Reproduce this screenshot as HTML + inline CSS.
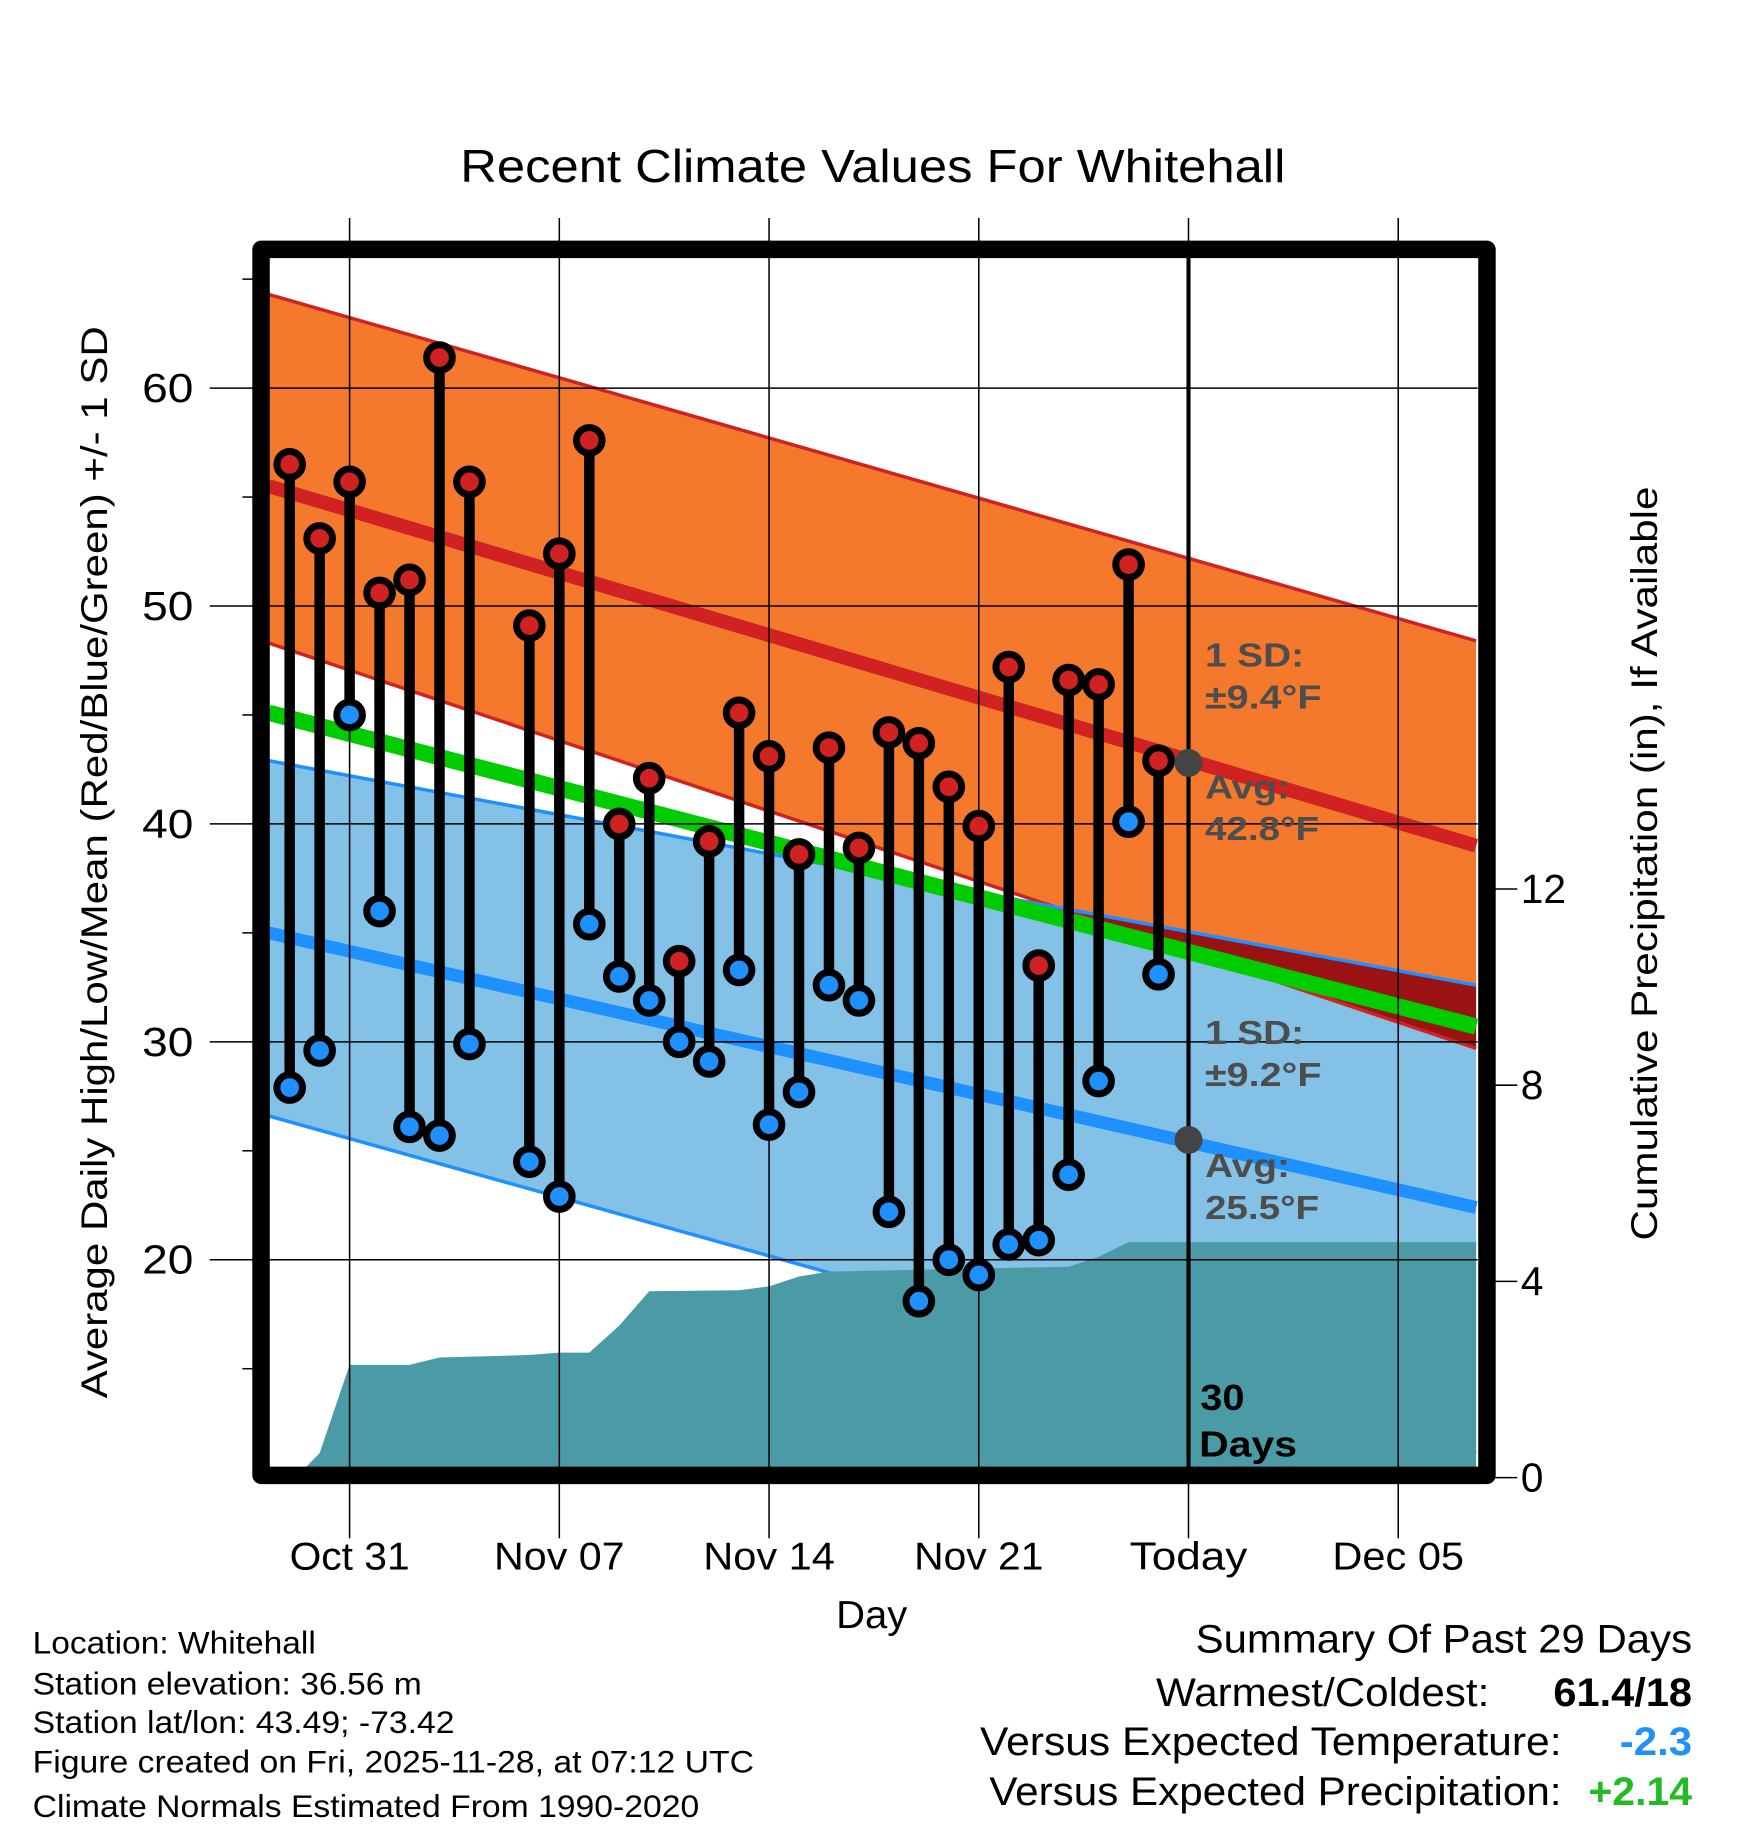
<!DOCTYPE html>
<html><head><meta charset="utf-8"><style>
html,body{margin:0;padding:0;background:#fff;}
svg{display:block;font-family:"Liberation Sans",Arial,sans-serif;}
</style></head><body>
<svg id="chart" width="1748" height="1828" viewBox="0 0 1500 1568.6" xmlns="http://www.w3.org/2000/svg"></svg>
<script>
// ---- data ----
const dayOffsets = [-2,-1,0,1,2,3,4,6,7,8,9,10,11,12,13,14,15,16,17,18,19,20,21,22,23,24,25,26,27];
const highs = [56.5,53.1,55.7,50.6,51.2,61.4,55.7,49.1,52.4,57.6,40.0,42.1,33.7,39.2,45.1,43.1,38.6,43.5,38.9,44.2,43.7,41.7,39.9,47.2,33.5,46.6,46.4,51.9,42.9];
const lows  = [27.9,29.6,45.0,36.0,26.1,25.7,29.9,24.5,22.9,35.4,33.0,31.9,30.0,29.1,33.3,26.2,27.7,32.6,31.9,22.2,18.1,20.0,19.3,20.7,20.9,23.9,28.2,40.1,33.1];
const precipDays = [-1.8,-1,0,2,3,6,7,8,9,10,13,14,15,16,24,25,26,37.6];
const precipVals = [0,0.5,2.3,2.3,2.45,2.5,2.55,2.55,3.1,3.8,3.82,3.9,4.1,4.2,4.3,4.5,4.8,4.8];
const normDays = [-2.7,37.6];
const highUpper = [64.3,48.4];
const highAvg = [55.5,39.0];
const highLower = [48.3,29.7];
const lowUpper = [42.9,32.6];
const lowAvg = [35.0,22.4];
const lowLower = [26.6,11.1];
const meanAvg = [45.1,30.7];
const yTicks = [20,30,40,50,60];
const yMinor = [15,25,35,45,55,65];
const pTicks = [0,4,8,12];
const xTickDays = [0,7,14,21,28,35];
const xTickLabels = ["Oct 31","Nov 07","Nov 14","Nov 21","Today","Dec 05"];
const xTickWidths = [103,112,113,111,101,113];

// ---- axes ----
const X = d => 300 + d*25.71;
const Y = t => 333 + (60-t)*18.7;
const P = p => 1268 - p*42.1;
const L=231,R=1268,T=221,B=1260;
const NS="http://www.w3.org/2000/svg";
const svg=document.getElementById('chart');
function mk(tag,attrs,parent){const e=document.createElementNS(NS,tag);for(const k in attrs)e.setAttribute(k,attrs[k]);(parent||svg).appendChild(e);return e;}
function txt(s,attrs,len){const e=mk('text',attrs);e.textContent=s;if(len){e.setAttribute('textLength',len);e.setAttribute('lengthAdjust','spacingAndGlyphs');}return e;}

const clip=mk('clipPath',{id:'pc'});mk('rect',{x:L,y:T,width:R-L,height:B-T},clip);
const g=mk('g',{'clip-path':'url(#pc)'});



function bandPts(up,lo){let s='';for(let i=0;i<normDays.length;i++)s+=X(normDays[i])+','+Y(up[i])+' ';for(let i=normDays.length-1;i>=0;i--)s+=X(normDays[i])+','+Y(lo[i])+' ';return s;}
function linePts(a){return normDays.map((d,i)=>X(d)+','+Y(a[i])).join(' ');}

let e=mk('polygon',{points:bandPts(highUpper,highLower),fill:'#f4792d'},g);


e=mk('polygon',{points:bandPts(lowUpper,lowLower),fill:'#84c1e6'},g);


const ov=mk('clipPath',{id:'ov'});mk('polygon',{points:bandPts(highUpper,highLower)},ov);
e=mk('polygon',{points:bandPts(lowUpper,lowLower),fill:'#9a1212','clip-path':'url(#ov)'},g);


[[highUpper,'#d02222',3],[highLower,'#d02222',3],[lowUpper,'#1e90ff',3],[lowLower,'#1e90ff',3]].forEach(a=>{
  const l=mk('polyline',{points:linePts(a[0]),fill:'none',stroke:a[1],'stroke-width':a[2]},g);
  
  
});
let pp=X(precipDays[0])+','+P(0)+' ';
precipDays.forEach((d,i)=>{pp+=X(d)+','+P(precipVals[i])+' ';});
pp+=X(precipDays[precipDays.length-1])+','+P(0);
e=mk('polygon',{points:pp,fill:'#4a9ba6'},g);


yTicks.forEach(t=>{const l=mk('line',{x1:180,x2:R,y1:Y(t),y2:Y(t),stroke:'#000','stroke-width':1.3});
  
  });
xTickDays.forEach(d=>{const l=mk('line',{x1:X(d),x2:X(d),y1:187,y2:1320,stroke:'#000','stroke-width':1.3});
  
  });
e=mk('polyline',{points:linePts(meanAvg),fill:'none',stroke:'#00cc00','stroke-width':14},g);


e=mk('polyline',{points:linePts(highAvg),fill:'none',stroke:'#d02222','stroke-width':12},g);


e=mk('polyline',{points:linePts(lowAvg),fill:'none',stroke:'#1e90ff','stroke-width':11},g);


e=mk('line',{x1:X(28),x2:X(28),y1:T,y2:B,stroke:'#000','stroke-width':3.5});


dayOffsets.forEach((d,i)=>{
  const s=mk('line',{x1:X(d),x2:X(d),y1:Y(highs[i]),y2:Y(lows[i]),stroke:'#000','stroke-width':9});
  
  
});
dayOffsets.forEach((d,i)=>{
  const a=mk('circle',{cx:X(d),cy:Y(highs[i]),r:11,fill:'#d02222',stroke:'#000','stroke-width':6});
  
  
  const b=mk('circle',{cx:X(d),cy:Y(lows[i]),r:11,fill:'#1e90ff',stroke:'#000','stroke-width':6});
  
  
});
e=mk('circle',{cx:X(28),cy:Y(42.8),r:12,fill:'#444'});


e=mk('circle',{cx:X(28),cy:Y(25.5),r:12,fill:'#444'});


[["1 SD:",572,85],["±9.4°F",608,100],["Avg:",685,73],["42.8°F",721,98],["1 SD:",896,85],["±9.2°F",932,100],["Avg:",1010,73],["25.5°F",1046,98]].forEach(a=>{
  const t=txt(a[0],{x:1034,y:a[1],'font-size':29,'font-weight':'bold',fill:'#4d4d4d'},a[2]);
  
  
});
e=txt("30",{x:1030,y:1210,'font-size':31,'font-weight':'bold'},38);


e=txt("Days",{x:1029,y:1250,'font-size':31,'font-weight':'bold'},84);


e=mk('rect',{x:224,y:214,width:1052,height:1052,fill:'none',stroke:'#000','stroke-width':15,'stroke-linejoin':'round'});


yMinor.forEach(t=>{const l=mk('line',{x1:208,x2:217,y1:Y(t),y2:Y(t),stroke:'#000','stroke-width':1.3});
  
  });
yTicks.forEach(t=>{const l=txt(String(t),{x:166,y:Y(t)+12,'font-size':35,'text-anchor':'end'},44);
  
  });
pTicks.forEach(p=>{const l=mk('line',{x1:1283,x2:1302,y1:P(p),y2:P(p),stroke:'#000','stroke-width':1.3});
  
  
  const t=txt(String(p),{x:1305,y:P(p)+12,'font-size':35});
  
  });
xTickDays.forEach((d,i)=>{const t=txt(xTickLabels[i],{x:X(d),y:1347,'font-size':33,'text-anchor':'middle'},xTickWidths[i]);
  
  });
e=txt("Day",{x:748,y:1397,'font-size':33,'text-anchor':'middle'},61);


e=txt("Recent Climate Values For Whitehall",{x:749,y:156,'font-size':40,'text-anchor':'middle'},708);


e=txt("Average Daily High/Low/Mean (Red/Blue/Green) +/- 1 SD",{x:0,y:0,'font-size':32,'text-anchor':'middle',transform:'translate(92,740) rotate(-90)'},920);


e=txt("Cumulative Precipitation (in), If Available",{x:0,y:0,'font-size':32,'text-anchor':'middle',transform:'translate(1422,741) rotate(-90)'},647);


[["Location: Whitehall",1419,243],["Station elevation: 36.56 m",1454,334],["Station lat/lon: 43.49; -73.42",1487,362],["Figure created on Fri, 2025-11-28, at 07:12 UTC",1521,619],["Climate Normals Estimated From 1990-2020",1559,572]].forEach(a=>{
  const t=txt(a[0],{x:28,y:a[1],'font-size':27},a[2]);
  
  
});
e=txt("Summary Of Past 29 Days",{x:1452,y:1418,'font-size':34,'text-anchor':'end'},426);


[["Warmest/Coldest:",1278,1464,286,"61.4/18","#000",119],["Versus Expected Temperature:",1340,1506,499,"-2.3","#1e90ff",62],["Versus Expected Precipitation:",1340,1549,491,"+2.14","#22bb22",89]].forEach(a=>{
  const l=txt(a[0],{x:a[1],y:a[2],'font-size':34,'text-anchor':'end'},a[3]);
  
  
  const v=txt(a[4],{x:1452,y:a[2],'font-size':34,'text-anchor':'end','font-weight':'bold',fill:a[5]},a[6]);
  
  
});
</script>
</body></html>
